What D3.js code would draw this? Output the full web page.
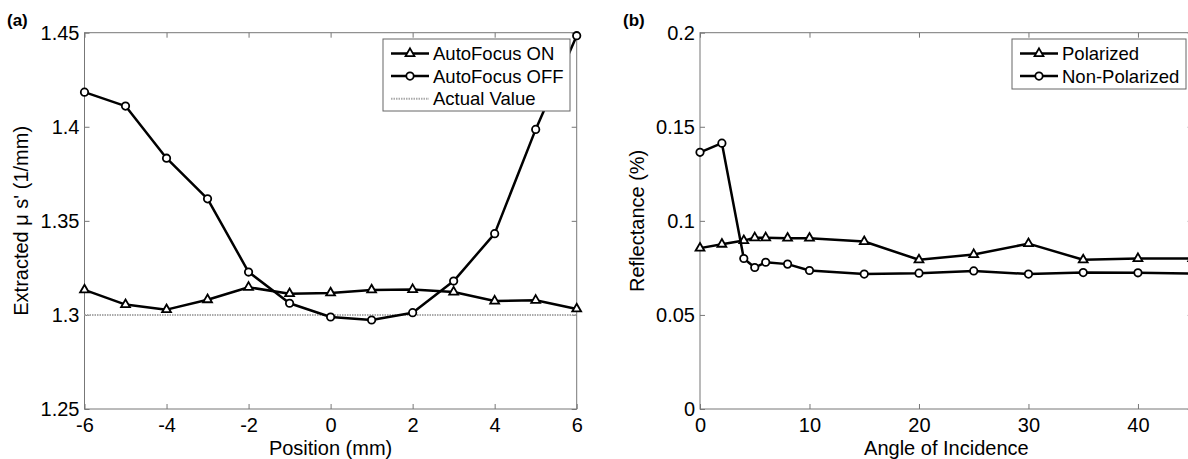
<!DOCTYPE html>
<html>
  <head>
    <meta charset="utf-8">
    <title>AutoFocus and reflectance</title>
    <script src="https://d3js.org/d3.v7.min.js"></script>
    <style>
      body { margin: 0; background: #fff; }
      svg { display: block; font-family: "Liberation Sans", Arial, sans-serif; }
      .axis .domain { display: none; }
      .axis line { stroke: #777; }
      .axis text { font-size: 20px; fill: #000; }
      .frame { fill: none; stroke: #777; stroke-width: 1; }
      .series { fill: none; stroke: #000; stroke-width: 2.5; stroke-linejoin: round; }
      .marker { fill: #fff; stroke: #000; stroke-width: 1.8; }
      .actual { fill: none; stroke: #aaa; stroke-width: 2; stroke-dasharray: 1.5,1; }
      .legendBox { fill: #fff; stroke: #666; stroke-width: 1; }
      .legendText { font-size: 18.5px; fill: #000; }
      .title { font-size: 20px; fill: #000; }
      .panelLabel { font-size: 17px; font-weight: bold; fill: #000; }
    </style>
  </head>
  <body>
    <svg id="chart" width="1188" height="459"></svg>
    <script>
      // panel (a) data
      var positions = [-6, -5, -4, -3, -2, -1, 0, 1, 2, 3, 4, 5, 6];
      var autofocusOn = [1.3133, 1.3055, 1.3028, 1.3081, 1.3147, 1.3113, 1.3117, 1.3133, 1.3135, 1.3122, 1.3074, 1.3078, 1.3032];
      var autofocusOff = [1.4184, 1.4110, 1.3833, 1.3617, 1.3228, 1.3062, 1.2989, 1.2973, 1.3012, 1.3180, 1.3432, 1.3986, 1.4484];
      var actualValue = 1.3;
      var positionTicks = [-6, -4, -2, 0, 2, 4, 6];
      var muTicks = [1.25, 1.3, 1.35, 1.4, 1.45];
      // panel (b) data
      var angles = [0, 2, 4, 5, 6, 8, 10, 15, 20, 25, 30, 35, 40, 45];
      var polarized = [0.0855, 0.0876, 0.0895, 0.0910, 0.0910, 0.0908, 0.0908, 0.0890, 0.0793, 0.0821, 0.0879, 0.0793, 0.0800, 0.0800];
      var nonPolarized = [0.1364, 0.1413, 0.0800, 0.0752, 0.0780, 0.0770, 0.0736, 0.0717, 0.0722, 0.0734, 0.0717, 0.0725, 0.0724, 0.0720];
      var angleTicks = [0, 10, 20, 30, 40];
      var reflTicks = [0, 0.05, 0.1, 0.15, 0.2];

      var svg = d3.select("#chart");
      var top_ = 32.7, bottom = 409;
      var triangle = d3.symbol().type(d3.symbolTriangle).size(34);

      function drawPanel(p) {
        var g = svg.append("g");
        var x = d3.scaleLinear().domain(p.xDomain).range([p.left, p.right]);
        var y = d3.scaleLinear().domain(p.yDomain).range([bottom, top_]);
        var fmt = function(d) { return String(d); };

        g.append("g").attr("class", "axis")
          .attr("transform", "translate(0," + bottom + ")")
          .call(d3.axisBottom(x).tickValues(p.xTicks).tickSize(-5).tickPadding(9).tickFormat(fmt));
        g.append("g").attr("class", "axis")
          .attr("transform", "translate(0," + top_ + ")")
          .call(d3.axisTop(x).tickValues(p.xTicks).tickSize(-5).tickFormat(""));
        g.append("g").attr("class", "axis")
          .attr("transform", "translate(" + p.left + ",0)")
          .call(d3.axisLeft(y).tickValues(p.yTicks).tickSize(-5).tickPadding(5).tickFormat(fmt));
        g.append("g").attr("class", "axis")
          .attr("transform", "translate(" + p.right + ",0)")
          .call(d3.axisRight(y).tickValues(p.yTicks).tickSize(-5).tickFormat(""));
        g.selectAll(".axis").attr("font-family", null);

        g.append("rect").attr("class", "frame")
          .attr("x", p.left).attr("y", top_)
          .attr("width", p.right - p.left).attr("height", bottom - top_);

        if (p.reference != null) {
          g.append("line").attr("class", "actual")
            .attr("x1", x(p.xDomain[0])).attr("x2", x(p.xDomain[1]))
            .attr("y1", y(p.reference)).attr("y2", y(p.reference));
        }

        var line = d3.line()
          .x(function(d) { return x(d[0]); })
          .y(function(d) { return y(d[1]); });

        p.series.forEach(function(s) {
          var pts = p.xs.map(function(v, i) { return [v, s.values[i]]; });
          g.append("path").attr("class", "series").attr("d", line(pts));
          if (s.shape === "circle") {
            g.selectAll(null).data(pts).enter().append("circle")
              .attr("class", "marker")
              .attr("cx", function(d) { return x(d[0]); })
              .attr("cy", function(d) { return y(d[1]); })
              .attr("r", 3.7);
          } else {
            g.selectAll(null).data(pts).enter().append("path")
              .attr("class", "marker")
              .attr("d", triangle)
              .attr("transform", function(d) { return "translate(" + x(d[0]) + "," + y(d[1]) + ")"; });
          }
        });

        // legend
        var lg = g.append("g");
        lg.append("rect").attr("class", "legendBox")
          .attr("x", p.legend.x).attr("y", 39)
          .attr("width", p.right - 6.7 - p.legend.x)
          .attr("height", p.legend.h);
        p.legend.items.forEach(function(it, i) {
          var ly = 53.5 + i * 22.6;
          var lx = p.legend.x + 8;
          lg.append("line")
            .attr("class", it.shape ? "series" : "actual")
            .attr("x1", lx).attr("x2", lx + 38).attr("y1", ly).attr("y2", ly);
          if (it.shape === "circle") {
            lg.append("circle").attr("class", "marker").attr("cx", lx + 19).attr("cy", ly).attr("r", 3.7);
          } else if (it.shape === "triangle") {
            lg.append("path").attr("class", "marker").attr("d", triangle)
              .attr("transform", "translate(" + (lx + 19) + "," + ly + ")");
          }
          lg.append("text").attr("class", "legendText")
            .attr("x", lx + 42).attr("y", ly).attr("dy", "0.36em")
            .text(it.label);
        });

        // titles
        g.append("text").attr("class", "title")
          .attr("x", (p.left + p.right) / 2).attr("y", 455)
          .attr("text-anchor", "middle").text(p.xTitle);
        g.append("text").attr("class", "title")
          .attr("transform", "translate(" + p.yTitleX + "," + ((top_ + bottom) / 2) + ") rotate(-90)")
          .attr("text-anchor", "middle").attr("dy", "0.36em").text(p.yTitle);
        g.append("text").attr("class", "panelLabel")
          .attr("x", p.labelX).attr("y", 26).text(p.label);
      }

      drawPanel({
        left: 84.5, right: 576.7,
        xDomain: [-6, 6], yDomain: [1.25, 1.45],
        xTicks: positionTicks, yTicks: muTicks,
        xs: positions,
        reference: actualValue,
        series: [
          { values: autofocusOn, shape: "triangle" },
          { values: autofocusOff, shape: "circle" }
        ],
        legend: {
          x: 383, h: 72,
          items: [
            { label: "AutoFocus ON", shape: "triangle" },
            { label: "AutoFocus OFF", shape: "circle" },
            { label: "Actual Value", shape: null }
          ]
        },
        xTitle: "Position (mm)",
        yTitle: "Extracted \u03bc s' (1/mm)",
        yTitleX: 21,
        label: "(a)", labelX: 7
      });

      drawPanel({
        left: 700, right: 1192.7,
        xDomain: [0, 45], yDomain: [0, 0.2],
        xTicks: angleTicks, yTicks: reflTicks,
        xs: angles,
        reference: null,
        series: [
          { values: polarized, shape: "triangle" },
          { values: nonPolarized, shape: "circle" }
        ],
        legend: {
          x: 1012, h: 50,
          items: [
            { label: "Polarized", shape: "triangle" },
            { label: "Non-Polarized", shape: "circle" }
          ]
        },
        xTitle: "Angle of Incidence",
        yTitle: "Reflectance (%)",
        yTitleX: 637,
        label: "(b)", labelX: 623
      });
    </script>
  </body>
</html>
